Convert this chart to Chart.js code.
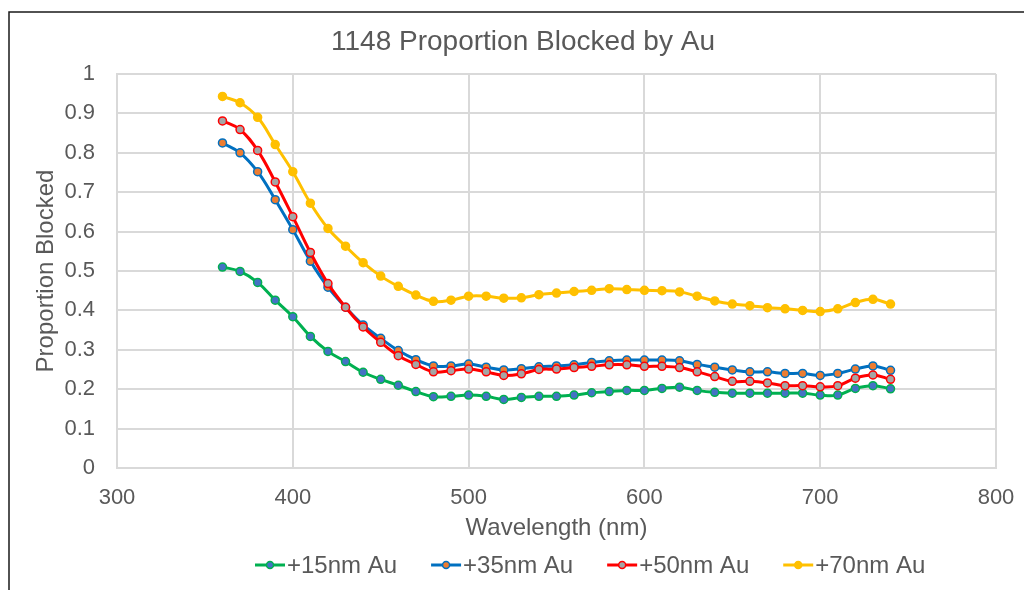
<!DOCTYPE html>
<html>
<head>
<meta charset="utf-8">
<title>1148 Proportion Blocked by Au</title>
<script src="https://cdn.jsdelivr.net/npm/chart.js@4.4.1/dist/chart.umd.min.js"></script>
<style>
  html, body { margin: 0; padding: 0; background: #ffffff; }
  #wrap { position: relative; width: 1024px; height: 590px; }
  canvas { display: block; }
</style>
</head>
<body>
<div id="wrap"><canvas id="chart" width="1024" height="590"></canvas></div>
<script>
// Wavelength grid (nm)
const wavelengths = [360, 370, 380, 390, 400, 410, 420, 430, 440, 450,
                     460, 470, 480, 490, 500, 510, 520, 530, 540, 550,
                     560, 570, 580, 590, 600, 610, 620, 630, 640, 650,
                     660, 670, 680, 690, 700, 710, 720, 730, 740];

// Proportion of light blocked for each Au thickness
const au15 = [0.510, 0.499, 0.471, 0.426, 0.384, 0.334, 0.296, 0.270, 0.243, 0.225,
              0.210, 0.194, 0.181, 0.182, 0.185, 0.182, 0.174, 0.179, 0.182, 0.182,
              0.185, 0.191, 0.194, 0.197, 0.197, 0.202, 0.205, 0.197, 0.192, 0.190,
              0.190, 0.190, 0.190, 0.190, 0.185, 0.185, 0.202, 0.209, 0.201];

const au35 = [0.825, 0.800, 0.752, 0.681, 0.605, 0.525, 0.459, 0.408, 0.363, 0.329,
              0.298, 0.275, 0.259, 0.259, 0.264, 0.256, 0.249, 0.252, 0.257, 0.259,
              0.262, 0.268, 0.272, 0.274, 0.274, 0.274, 0.272, 0.263, 0.256, 0.249,
              0.244, 0.244, 0.240, 0.240, 0.235, 0.240, 0.251, 0.259, 0.248];

const au50 = [0.881, 0.859, 0.806, 0.726, 0.638, 0.547, 0.468, 0.408, 0.358, 0.319,
              0.285, 0.263, 0.244, 0.247, 0.251, 0.244, 0.235, 0.239, 0.250, 0.251,
              0.255, 0.258, 0.262, 0.262, 0.258, 0.258, 0.255, 0.244, 0.232, 0.220,
              0.220, 0.216, 0.209, 0.209, 0.206, 0.209, 0.228, 0.236, 0.225];

const au70 = [0.943, 0.927, 0.890, 0.821, 0.752, 0.672, 0.608, 0.563, 0.521, 0.487,
              0.461, 0.439, 0.423, 0.426, 0.436, 0.436, 0.431, 0.432, 0.440, 0.444,
              0.448, 0.451, 0.455, 0.453, 0.451, 0.450, 0.447, 0.436, 0.424, 0.416,
              0.412, 0.407, 0.404, 0.400, 0.397, 0.404, 0.420, 0.428, 0.416];

const seriesNames = ['+15nm Au', '+35nm Au', '+50nm Au', '+70nm Au'];
const xTickLabels = ['300', '400', '500', '600', '700', '800'];
const yTickLabels = ['0', '0.1', '0.2', '0.3', '0.4', '0.5', '0.6', '0.7', '0.8', '0.9', '1'];

const chartTitle = '1148 Proportion Blocked by Au';
const xTitle = 'Wavelength (nm)';
const yTitle = 'Proportion Blocked';

const FONT = '"Liberation Sans", Arial, sans-serif';
const TEXT = '#595959';
const GRID = '#d9d9d9';

const styles = [
  { line: '#00B050', fill: '#4472C4' },
  { line: '#0070C0', fill: '#ED7D31' },
  { line: '#FF0000', fill: '#A5A5A5' },
  { line: '#FFC000', fill: '#FFC000' }
];

function toPoints(values) {
  return wavelengths.map((w, i) => ({ x: w, y: values[i] }));
}

const seriesValues = [au15, au35, au50, au70];
const datasets = seriesValues.map((vals, i) => ({
  label: seriesNames[i],
  data: toPoints(vals),
  borderColor: styles[i].line,
  backgroundColor: styles[i].line,
  pointBackgroundColor: styles[i].fill,
  pointBorderColor: styles[i].line,
  pointBorderWidth: 1.5,
  pointRadius: 4,
  borderWidth: 3,
  borderJoinStyle: 'round',
  borderCapStyle: 'round',
  tension: 0.4,
  fill: false,
  order: seriesValues.length - i
}));

// Outer frame along the top and left edges
const framePlugin = {
  id: 'frame',
  beforeDraw(chart) {
    const ctx = chart.ctx;
    ctx.save();
    ctx.strokeStyle = '#1a1a1a';
    ctx.lineWidth = 1.5;
    ctx.beginPath();
    ctx.moveTo(9, chart.height);
    ctx.lineTo(9, 12);
    ctx.lineTo(chart.width, 12);
    ctx.stroke();
    ctx.restore();
  }
};

// Heading and line-with-marker legend
const annotatePlugin = {
  id: 'annotate',
  afterDraw(chart) {
    const ctx = chart.ctx;
    ctx.save();
    ctx.fillStyle = TEXT;
    ctx.font = '28px ' + FONT;
    ctx.textAlign = 'center';
    ctx.textBaseline = 'middle';
    ctx.fillText(chartTitle, 523, 42);

    ctx.font = '24px ' + FONT;
    ctx.textAlign = 'left';
    const y = 565;
    let x = 255;
    chart.data.datasets.forEach((ds) => {
      ctx.strokeStyle = ds.borderColor;
      ctx.lineWidth = 3;
      ctx.beginPath();
      ctx.moveTo(x, y);
      ctx.lineTo(x + 30, y);
      ctx.stroke();
      ctx.beginPath();
      ctx.arc(x + 15, y, 3.5, 0, Math.PI * 2);
      ctx.fillStyle = ds.pointBackgroundColor;
      ctx.fill();
      ctx.lineWidth = 1.5;
      ctx.strokeStyle = ds.pointBorderColor;
      ctx.stroke();
      ctx.fillStyle = TEXT;
      ctx.fillText(ds.label, x + 32, y + 1);
      x += 32 + ctx.measureText(ds.label).width + 34;
    });
    ctx.restore();
  }
};

new Chart(document.getElementById('chart'), {
  type: 'line',
  data: { datasets },
  options: {
    responsive: false,
    animation: false,
    layout: { autoPadding: false, padding: { top: 74, right: 28, bottom: 0, left: 0 } },
    plugins: {
      legend: { display: false },
      title: { display: false },
      tooltip: { enabled: false }
    },
    scales: {
      x: {
        type: 'linear',
        min: 300,
        max: 800,
        afterFit(scale) {
          scale.height = 122;
          scale.paddingLeft = 0;
          scale.paddingRight = 0;
        },
        ticks: {
          stepSize: 100,
          color: TEXT,
          font: { family: FONT, size: 22 },
          padding: 17,
          callback: (value, index) => xTickLabels[index]
        },
        grid: { color: GRID, lineWidth: 2, drawTicks: false },
        border: { display: true, color: GRID, width: 2 },
        title: {
          display: true,
          text: xTitle,
          color: TEXT,
          font: { family: FONT, size: 24 },
          padding: { top: 0, bottom: 47 }
        }
      },
      y: {
        type: 'linear',
        min: 0,
        max: 1,
        afterFit(scale) {
          scale.width = 117;
          scale.paddingTop = 0;
          scale.paddingBottom = 0;
        },
        ticks: {
          stepSize: 0.1,
          color: TEXT,
          font: { family: FONT, size: 22 },
          padding: 22,
          callback: (value, index) => yTickLabels[index]
        },
        grid: { color: GRID, lineWidth: 2, drawTicks: false },
        border: { display: true, color: GRID, width: 2 },
        title: {
          display: true,
          text: yTitle,
          color: TEXT,
          font: { family: FONT, size: 24 },
          padding: { top: 32, bottom: 0 }
        }
      }
    }
  },
  plugins: [framePlugin, annotatePlugin]
});
</script>
</body>
</html>
